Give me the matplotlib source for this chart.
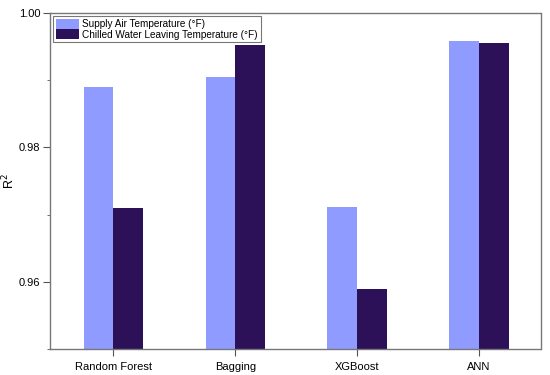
import numpy as np
import matplotlib
matplotlib.use('Agg')
import matplotlib.pyplot as plt
from matplotlib.ticker import MultipleLocator

plt.rcParams['font.family'] = ['Liberation Sans', 'DejaVu Sans']

models = ['Random Forest', 'Bagging', 'XGBoost', 'ANN']
supply_air = [0.9890, 0.9905, 0.9712, 0.9958]
chilled_water = [0.9710, 0.9952, 0.9590, 0.9956]
labels = ['Supply Air Temperature (°F)', 'Chilled Water Leaving Temperature (°F)']

fig = plt.figure(figsize=(5.5, 3.75), dpi=100)
ax = fig.add_axes([50 / 550, 1 - 349 / 375, 490.5 / 550, 336 / 375])

r = np.arange(len(models))
width = 0.243
ax.bar(r - width / 2, supply_air, width=width, color='#8f9bff', label=labels[0])
ax.bar(r + width / 2, chilled_water, width=width, color='#2c1159', label=labels[1])

ax.set_ylim(0.95, 1.00)
ax.set_xlim(-0.52, 3.505)
ax.set_xticks(r)
ax.set_xticklabels(models)
ax.yaxis.set_major_locator(MultipleLocator(0.02))
ax.yaxis.set_minor_locator(MultipleLocator(0.01))
ax.yaxis.set_major_formatter(plt.FormatStrFormatter('%.2f'))
ax.tick_params(axis='both', labelsize=8, color='#555555', length=5, direction='out')
ax.tick_params(axis='y', which='minor', length=2, color='#555555')
ax.tick_params(axis='y', pad=2)
ax.tick_params(axis='x', pad=4)
for s in ax.spines.values():
    s.set_color('#777777')
    s.set_linewidth(1.0)
ax.set_ylabel('R$^2$', fontsize=9)
ax.yaxis.set_label_coords(-0.066, 0.5)

leg = ax.legend(loc='upper left', fontsize=7.2, frameon=True, fancybox=False,
                edgecolor='#555555', borderpad=0.25, handlelength=2.3,
                handleheight=1.2, labelspacing=0.0, borderaxespad=0.3,
                handletextpad=0.4)
leg.get_frame().set_linewidth(0.8)

plt.savefig('out.png', dpi=100)
